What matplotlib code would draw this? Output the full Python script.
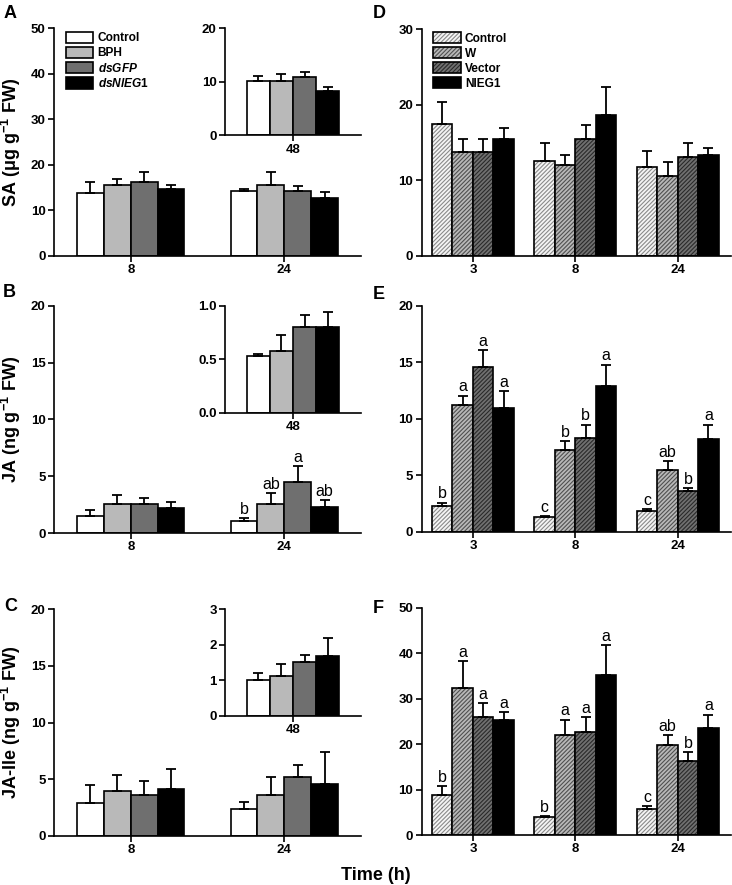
import numpy as np
import matplotlib
matplotlib.use('Agg')
import matplotlib.pyplot as plt
from matplotlib.patches import Patch
from matplotlib.legend_handler import HandlerTuple

plt.rcParams['font.family'] = ['Liberation Sans', 'DejaVu Sans']
plt.rcParams['font.weight'] = 'bold'
plt.rcParams['axes.labelweight'] = 'bold'
plt.rcParams['mathtext.fontset'] = 'custom'
plt.rcParams['mathtext.rm'] = 'Liberation Sans:bold'
plt.rcParams['mathtext.it'] = 'Liberation Sans:italic:bold'
plt.rcParams['mathtext.bf'] = 'Liberation Sans:bold'
plt.rcParams['hatch.linewidth'] = 0.8

# --- left column (A-C): Control, BPH, dsGFP, dsNlEG1 at 8 h and 24 h, inset 48 h
left_groups = ['8', '24']
left_names = ['Control', 'BPH', r'$dsGFP$', r'$dsNlEG$1']
left_colors = ['white', '#b9b9b9', '#6f6f6f', 'black']

sa_mean = [[13.9, 14.2], [15.5, 15.5], [16.3, 14.2], [14.8, 12.7]]
sa_err = [[2.35, 0.6], [1.4, 3.0], [2.2, 1.2], [0.8, 1.3]]
sa48_mean = [10.1, 10.2, 10.9, 8.3]
sa48_err = [0.9, 1.2, 0.9, 0.65]

ja_mean = [[1.46, 1.05], [2.58, 2.55], [2.52, 4.48], [2.17, 2.25]]
ja_err = [[0.6, 0.3], [0.76, 0.93], [0.53, 1.41], [0.55, 0.62]]
ja_letters = [['', 'b'], ['', 'ab'], ['', 'a'], ['', 'ab']]
ja48_mean = [0.53, 0.58, 0.80, 0.80]
ja48_err = [0.02, 0.15, 0.11, 0.14]

jaile_mean = [[2.88, 2.35], [3.99, 3.58], [3.58, 5.17], [4.17, 4.61]]
jaile_err = [[1.58, 0.67], [1.36, 1.59], [1.24, 1.11], [1.76, 2.79]]
jaile48_mean = [1.0, 1.12, 1.50, 1.69]
jaile48_err = [0.21, 0.33, 0.20, 0.50]

# --- right column (D-F): Control, W, Vector, NIEG1 at 3, 8, 24 h
right_groups = ['3', '8', '24']
right_names = ['Control', 'W', 'Vector', 'NIEG1']
right_face = ['#f4f4f4', '#b8b8b8', '#707070', 'black']
right_hatch = ['#8a8a8a', '#505050', '#2a2a2a', 'black']

d_mean = [[17.4, 12.6, 11.8], [13.8, 12.0, 10.6], [13.8, 15.4, 13.1], [15.5, 18.6, 13.3]]
d_err = [[2.9, 2.4, 2.1], [1.6, 1.3, 1.8], [1.6, 1.9, 1.9], [1.4, 3.8, 1.0]]

e_mean = [[2.26, 1.32, 1.85], [11.26, 7.24, 5.44], [14.6, 8.32, 3.59], [10.94, 12.88, 8.2]]
e_err = [[0.34, 0.12, 0.21], [0.8, 0.79, 0.8], [1.5, 1.18, 0.29], [1.5, 1.92, 1.3]]
e_letters = [['b', 'c', 'c'], ['a', 'b', 'ab'], ['a', 'b', 'b'], ['a', 'a', 'a']]

f_mean = [[8.87, 3.96, 5.8], [32.4, 22.0, 19.7], [26.0, 22.7, 16.2], [25.4, 35.2, 23.5]]
f_err = [[1.98, 0.29, 0.65], [5.8, 3.4, 2.2], [3.0, 3.3, 2.0], [1.6, 6.5, 3.0]]
f_letters = [['b', 'b', 'c'], ['a', 'a', 'ab'], ['a', 'a', 'b'], ['a', 'a', 'a']]

HATCH = '////////'
W_PX, H_PX = 732, 885
fig = plt.figure(figsize=(7.32, 8.85), dpi=100)


def px_axes(l, t, r, b):
    ax = fig.add_axes([l / W_PX, 1 - b / H_PX, (r - l) / W_PX, (b - t) / H_PX])
    ax.patch.set_alpha(0)
    for s in ['top', 'right']:
        ax.spines[s].set_visible(False)
    for s in ['left', 'bottom']:
        ax.spines[s].set_linewidth(1.2)
    ax.tick_params(direction='out', length=4, width=1.2, labelsize=9.5, pad=2)
    return ax


def letters_on(ax, xs, tops, labels):
    for x, t, lab in zip(xs, tops, labels):
        if lab:
            ax.annotate(lab, (x, t), xytext=(0, 0.8), textcoords='offset points',
                        ha='center', va='bottom', fontsize=11.5, fontweight='normal')


def left_panel(t, b, mean, err, m48, e48, ylim, yt, ylim48, yt48, ylabel, letters=None):
    ax = px_axes(54, t, 361, b)
    w = 0.175
    g = np.arange(len(left_groups))
    for i in range(4):
        xs = g + (i - 1.5) * w
        ax.bar(xs, mean[i], w, color=left_colors[i], edgecolor='black',
               linewidth=1.2, label=left_names[i], zorder=2)
        ax.errorbar(xs, mean[i], yerr=[np.zeros(len(g)), err[i]], fmt='none',
                    ecolor='black', elinewidth=1.3, capsize=3.5, capthick=1.3, zorder=3)
        if letters:
            letters_on(ax, xs, np.add(mean[i], err[i]), letters[i])
    ax.set_xlim(-0.5, 1.5)
    ax.set_xticks(g)
    ax.set_xticklabels(left_groups)
    ax.set_ylim(*ylim)
    ax.set_yticks(yt)
    ax.set_ylabel(ylabel, fontsize=13, fontweight='bold')
    ax.yaxis.set_label_coords(-0.10, 0.5)

    ins = px_axes(225, t, 361, t + (b - t) * 0.47)
    ins.set_zorder(ax.get_zorder() + 1)
    for i in range(4):
        x = (i - 1.5) * 0.17
        ins.bar(x, m48[i], 0.17, color=left_colors[i], edgecolor='black', linewidth=1.2, zorder=2)
        ins.errorbar(x, m48[i], yerr=[[0], [e48[i]]], fmt='none', ecolor='black',
                     elinewidth=1.3, capsize=3.5, capthick=1.3, zorder=3)
    ins.set_xlim(-0.5, 0.5)
    ins.set_xticks([0])
    ins.set_xticklabels(['48'])
    ins.set_ylim(*ylim48)
    ins.set_yticks(yt48)
    return ax, ins


def right_panel(t, b, mean, err, ylim, yt, letters=None):
    ax = px_axes(421.7, t, 731, b)
    w = 0.2
    g = np.arange(len(right_groups))
    for i in range(4):
        xs = g + (i - 1.5) * w
        ax.bar(xs, mean[i], w, color=right_face[i], edgecolor=right_hatch[i],
               hatch=HATCH if i < 3 else None, linewidth=0, zorder=2)
        ax.bar(xs, mean[i], w, facecolor='none', edgecolor='black', linewidth=1.2, zorder=2)
        ax.errorbar(xs, mean[i], yerr=[np.zeros(len(g)), err[i]], fmt='none',
                    ecolor='black', elinewidth=1.3, capsize=3.5, capthick=1.3, zorder=3)
        if letters:
            letters_on(ax, xs, np.add(mean[i], err[i]), letters[i])
    ax.set_xlim(-0.5, 2.52)
    ax.set_xticks(g)
    ax.set_xticklabels(right_groups)
    ax.set_ylim(*ylim)
    ax.set_yticks(yt)
    return ax


axA, insA = left_panel(28.3, 256, sa_mean, sa_err, sa48_mean, sa48_err, (0, 50),
                       [0, 10, 20, 30, 40, 50], (0, 20), [0, 10, 20],
                       'SA (μg g$^{-1}$ FW)')
axB, insB = left_panel(305.7, 533, ja_mean, ja_err, ja48_mean, ja48_err, (0, 20),
                       [0, 5, 10, 15, 20], (0, 1.0), [0.0, 0.5, 1.0],
                       'JA (ng g$^{-1}$ FW)', letters=ja_letters)
insB.set_yticklabels(['0.0', '0.5', '1.0'])
axC, insC = left_panel(609, 836, jaile_mean, jaile_err, jaile48_mean, jaile48_err, (0, 20),
                       [0, 5, 10, 15, 20], (0, 3), [0, 1, 2, 3],
                       'JA-Ile (ng g$^{-1}$ FW)')

axD = right_panel(29, 256, d_mean, d_err, (0, 30), [0, 10, 20, 30])
axE = right_panel(305.7, 532, e_mean, e_err, (0, 20), [0, 5, 10, 15, 20], letters=e_letters)
axF = right_panel(607.7, 835, f_mean, f_err, (0, 50), [0, 10, 20, 30, 40, 50], letters=f_letters)

leg_kw = dict(loc='upper left', frameon=False, fontsize=8.6, handlelength=2.3,
              handleheight=1.05, handletextpad=0.35, labelspacing=0.2,
              borderpad=0, borderaxespad=0)
axA.legend(bbox_to_anchor=(12 / 307, 1 - 3.4 / 227.7), **leg_kw)

handles = []
for i in range(4):
    h1 = Patch(facecolor=right_face[i], edgecolor=right_hatch[i],
               hatch=HATCH if i < 3 else None, linewidth=0)
    h2 = Patch(facecolor='none', edgecolor='black', linewidth=1.2)
    handles.append((h1, h2))
axD.legend(handles, right_names, bbox_to_anchor=(11.6 / 309.3, 1 - 3 / 227),
           handler_map={tuple: HandlerTuple(ndivide=1, pad=0)}, **leg_kw)

for lab, x, y in [('A', 4, 18), ('B', 3, 297), ('C', 4, 611),
                  ('D', 373, 18), ('E', 373, 299), ('F', 373, 613)]:
    fig.text(x / W_PX, 1 - y / H_PX, lab, fontsize=13, fontweight='bold', va='baseline')

fig.text(376 / W_PX, 1 - 880 / H_PX, 'Time (h)', fontsize=13, fontweight='bold',
         ha='center', va='baseline')

fig.savefig('out.png', dpi=100)
